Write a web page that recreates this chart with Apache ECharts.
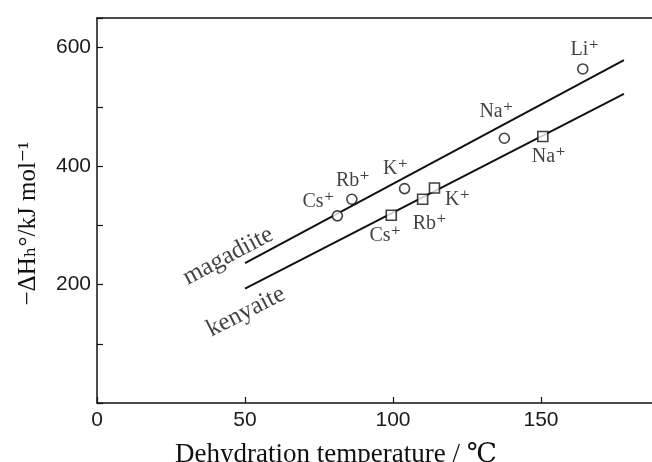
<!DOCTYPE html>
<html>
<head>
<meta charset="utf-8">
<script src="https://cdn.jsdelivr.net/npm/echarts@6/dist/echarts.min.js"></script>
<style>html,body{margin:0;padding:0;background:#fff;}#c{width:652px;height:462px;}</style>
</head>
<body>
<div id="c"></div>
<script>
// Magadiite (circles)
var magIons = ['Cs⁺', 'Rb⁺', 'K⁺', 'Na⁺', 'Li⁺'];
var magTemp = [81.2, 86.1, 103.9, 137.6, 164.1];
var magDH = [316, 344, 362, 447, 564];
// Kenyaite (squares)
var kenIons = ['Cs⁺', 'Rb⁺', 'K⁺', 'Na⁺'];
var kenTemp = [99.4, 110.0, 114.0, 150.6];
var kenDH = [317, 344, 363, 450];
// Fitted lines
var magLineX = [50, 178];
var magLineY = [236, 579];
var kenLineX = [50, 178];
var kenLineY = [193, 522];
// Line names
var lineNames = ['magadiite', 'kenyaite'];
var lineNameX = [44.3, 50.3];
var lineNameY = [248, 154];
// Axis ticks
var xTickLabels = [0, 50, 100, 150];
var yTickLabels = [200, 400, 600];

var magOffsets = [[-19, -14], [1, -18], [-9, -20], [-8, -26], [2, -19]];
var kenOffsets = [[-6, 21], [7, 25], [23, 12], [6, 20]];

var serif = "'Liberation Serif','DejaVu Serif',serif";
var sans = "'Liberation Sans','DejaVu Sans',sans-serif";
var ink = '#111';

function zip(xs, ys) { return xs.map(function (x, i) { return [x, ys[i]]; }); }

var chart = echarts.init(document.getElementById('c'), null, {renderer: 'canvas'});
chart.setOption({
  animation: false,
  backgroundColor: '#fff',
  grid: {left: 97, right: -3, top: 18, bottom: 59, containLabel: false, outerBoundsMode: 'none'},
  xAxis: [{
    type: 'value', min: 0, max: 188.5, interval: 50,
    name: 'Dehydration temperature / ℃', nameLocation: 'middle', nameGap: 38,
    nameTextStyle: {fontFamily: serif, fontSize: 27, color: ink, padding: [0, 80, 0, 0]},
    axisLine: {show: true, lineStyle: {color: ink, width: 1.5}},
    axisTick: {show: true, inside: true, length: 6, lineStyle: {color: ink, width: 1.2}},
    axisLabel: {fontFamily: sans, fontSize: 21, color: '#1a1a1a', margin: 7,
      formatter: function (v) { return xTickLabels.indexOf(v) >= 0 ? String(v) : ''; }},
    splitLine: {show: false}
  }, {
    type: 'value', min: 0, max: 188.5, position: 'top',
    axisLine: {show: true, lineStyle: {color: ink, width: 1.5}},
    axisTick: {show: false}, axisLabel: {show: false}, splitLine: {show: false}
  }],
  yAxis: {
    type: 'value', min: 0, max: 650, interval: 100,
    name: '−ΔHₕ°/kJ mol⁻¹', nameLocation: 'middle', nameGap: 56, nameRotate: 90,
    nameTextStyle: {fontFamily: serif, fontSize: 25, color: ink, padding: [0, 26, 0, 0]},
    axisLine: {show: true, lineStyle: {color: ink, width: 1.5}},
    axisTick: {show: true, inside: true, length: 6, lineStyle: {color: ink, width: 1.2}},
    axisLabel: {fontFamily: sans, fontSize: 21, color: '#1a1a1a', margin: 6,
      formatter: function (v) { return yTickLabels.indexOf(v) >= 0 ? String(v) : ''; }},
    splitLine: {show: false}
  },
  series: [{
    type: 'line', data: zip(magLineX, magLineY), symbol: 'none',
    lineStyle: {color: ink, width: 2}, z: 2
  }, {
    type: 'line', data: zip(kenLineX, kenLineY), symbol: 'none',
    lineStyle: {color: ink, width: 2}, z: 2
  }, {
    type: 'scatter', symbol: 'circle', symbolSize: 10, z: 3,
    itemStyle: {color: '#fff', borderColor: ink, borderWidth: 1.6},
    data: magTemp.map(function (x, i) {
      return {value: [x, magDH[i]], label: {show: true, position: 'inside', offset: magOffsets[i],
        formatter: magIons[i], fontFamily: serif, fontSize: 20, color: ink}};
    })
  }, {
    type: 'scatter', symbol: 'rect', symbolSize: 10, z: 3,
    itemStyle: {color: '#fff', borderColor: ink, borderWidth: 1.6},
    data: kenTemp.map(function (x, i) {
      return {value: [x, kenDH[i]], label: {show: true, position: 'inside', offset: kenOffsets[i],
        formatter: kenIons[i], fontFamily: serif, fontSize: 20, color: ink}};
    })
  }, {
    type: 'scatter', symbolSize: 0, z: 4, silent: true,
    data: lineNames.map(function (n, i) {
      return {value: [lineNameX[i], lineNameY[i]], label: {show: true, position: 'inside',
        rotate: i === 0 ? 28 : 27, formatter: n, fontFamily: serif, fontSize: 25, color: ink}};
    })
  }]
});
</script>
</body>
</html>
